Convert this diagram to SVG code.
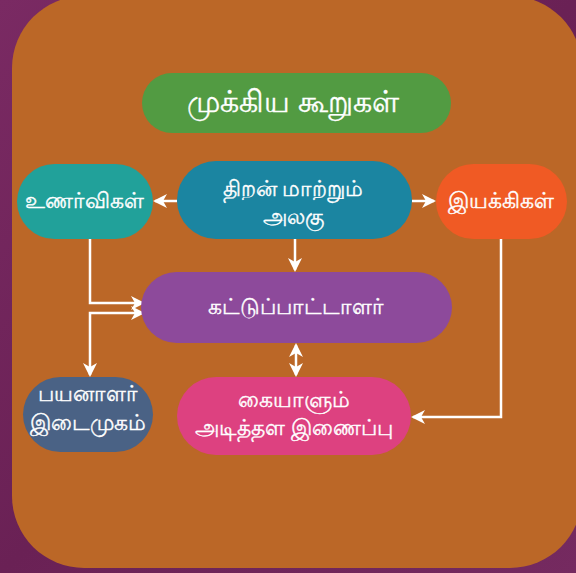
<svg xmlns="http://www.w3.org/2000/svg" width="576" height="573" viewBox="0 0 576 573">
  <style>
    .label { font-family: "Noto Sans", "DejaVu Sans", sans-serif; fill: #ffffff; stroke: #ffffff; stroke-width: 0.35; text-anchor: middle; }
    .node { font-size: 22px; }
    .title { font-size: 30px; }
    .wire { fill: none; stroke: #ffffff; stroke-width: 2.5; }
  </style>
  <defs>
    <linearGradient id="bg" x1="0" y1="0" x2="1" y2="1">
      <stop offset="0" stop-color="#7a2a63"/>
      <stop offset="0.5" stop-color="#6a2155"/>
      <stop offset="1" stop-color="#752a60"/>
    </linearGradient>
    <marker id="head" viewBox="0 0 14 14" refX="12" refY="7" markerWidth="14" markerHeight="14" markerUnits="userSpaceOnUse" orient="auto-start-reverse">
      <path d="M0,0 L14,7 L0,14 L4,7 z" fill="#ffffff"/>
    </marker>
  </defs>

  <!-- backdrop and panel -->
  <rect x="0" y="0" width="576" height="573" fill="url(#bg)"/>
  <rect x="12" y="-4" width="570" height="572" rx="72" ry="72" fill="#bb6727"/>

  <!-- connectors -->
  <g id="connectors">
    <path class="wire" d="M177,201 L155,201" marker-end="url(#head)"/>
    <path class="wire" d="M412,201 L434,201" marker-end="url(#head)"/>
    <path class="wire" d="M295,239 L295,270" marker-end="url(#head)"/>
    <path class="wire" d="M90,239 L90,303 L143,303" marker-end="url(#head)"/>
    <path class="wire" d="M143,313 L90,313 L90,375" marker-start="url(#head)" marker-end="url(#head)"/>
    <path class="wire" d="M296,345 L296,375" marker-start="url(#head)" marker-end="url(#head)"/>
    <path class="wire" d="M501,239 L501,417 L413,417" marker-end="url(#head)"/>
  </g>

  <!-- nodes -->
  <g id="title">
    <rect x="142" y="73" width="309" height="60" rx="30" fill="#529b42"/>
    <text class="label title" x="293" y="112">முக்கிய கூறுகள்</text>
  </g>
  <g id="converter">
    <rect x="177" y="161" width="235" height="78" rx="39" fill="#1b85a1"/>
    <text class="label node" x="293" y="196">திறன் மாற்றும்</text>
    <text class="label node" x="293" y="224">அலகு</text>
  </g>
  <g id="sensors">
    <rect x="17" y="164" width="136" height="75" rx="37.5" fill="#21a19a"/>
    <text class="label node" x="84" y="208">உணர்விகள்</text>
  </g>
  <g id="actuators">
    <rect x="436" y="164" width="131" height="75" rx="37.5" fill="#f05a24"/>
    <text class="label node" x="501" y="208">இயக்கிகள்</text>
  </g>
  <g id="controller">
    <rect x="141" y="272" width="311" height="71" rx="35.5" fill="#8d4a9b"/>
    <text class="label node" x="296" y="314">கட்டுப்பாட்டாளர்</text>
  </g>
  <g id="interface">
    <rect x="23" y="377" width="130" height="75" rx="37.5" fill="#4a6285"/>
    <text class="label node" x="88" y="401">பயனாளர்</text>
    <text class="label node" x="88" y="430">இடைமுகம்</text>
  </g>
  <g id="hal">
    <rect x="177" y="377" width="234" height="78" rx="39" fill="#dd4180"/>
    <text class="label node" x="294" y="407">கையாளும்</text>
    <text class="label node" x="294" y="435">அடித்தள இணைப்பு</text>
  </g>
</svg>
